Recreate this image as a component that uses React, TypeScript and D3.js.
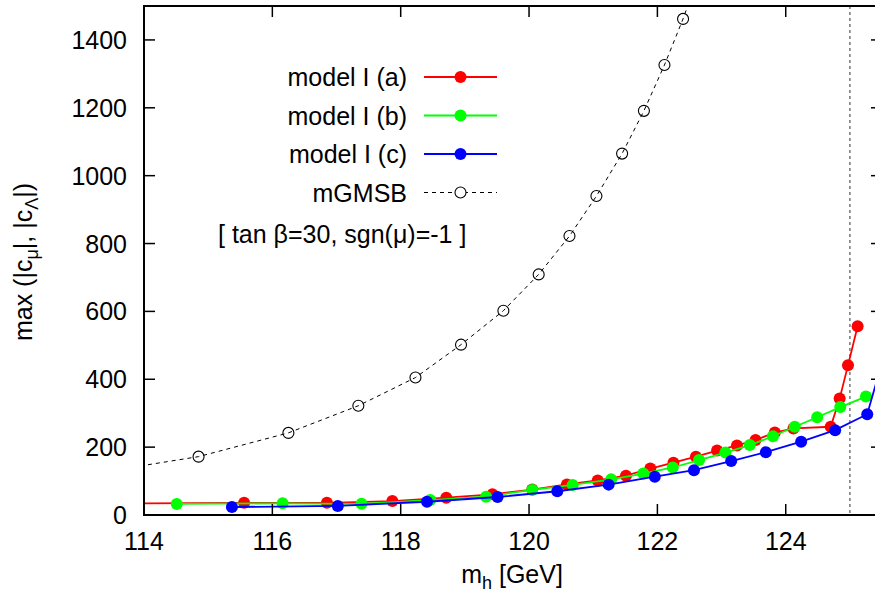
import React from "react";
import * as d3 from "d3";

const xTicks = [114, 116, 118, 120, 122, 124];
const yTicks = [0, 200, 400, 600, 800, 1000, 1200, 1400];

const redX = [113.5, 115.56, 116.85, 117.87, 118.71, 119.43, 120.05, 120.59, 121.07, 121.51, 121.89, 122.25, 122.6, 122.93, 123.24, 123.53, 123.83, 124.12, 124.7, 124.84, 124.97, 125.12];
const redY = [34, 36, 36, 41, 51, 61, 75, 90, 102, 116, 137, 154, 172, 190, 205, 221, 243, 255, 260, 343, 441, 556];

const greenX = [114.51, 116.16, 117.39, 118.46, 119.33, 120.05, 120.68, 121.28, 121.78, 122.24, 122.65, 123.06, 123.44, 123.8, 124.14, 124.49, 124.85, 125.25];
const greenY = [32.5, 34.5, 33, 44, 54, 74, 88.6, 105, 122, 140, 162, 184, 206, 232, 260, 288, 318, 349];

const blueX = [115.37, 117.02, 118.41, 119.51, 120.44, 121.24, 121.96, 122.57, 123.15, 123.69, 124.24, 124.77, 125.27, 125.5];
const blueY = [23.6, 26.6, 39, 53, 70, 89.5, 113, 132, 159, 185, 216, 250, 297, 450];

const mgmsbX = [113.2, 114.85, 116.25, 117.34, 118.23, 118.94, 119.6, 120.15, 120.63, 121.05, 121.45, 121.79, 122.11, 122.4, 122.67];
const mgmsbY = [122, 172, 242, 322, 405, 502, 602, 709, 822, 940, 1065, 1191, 1326, 1462, 1605];

const legendLabels = ["model I (a)", "model I (b)", "model I (c)", "mGMSB"];
const vLineX = 125;

const W = 875;
const H = 592;
const L = 144;
const R = 882;
const T = 6;
const B = 515;
const FONT = "'Liberation Sans', Arial, sans-serif";
const FS = 25;
const SUB = 18;

export default function App() {
  const x = d3.scaleLinear().domain([114, 125.5]).range([L, R]);
  const y = d3.scaleLinear().domain([0, 1500]).range([B, T]);
  const line = d3
    .line<[number, number]>()
    .x((d) => x(d[0]))
    .y((d) => y(d[1]));

  const zip = (xs: number[], ys: number[]) => xs.map((v, i) => [v, ys[i]] as [number, number]);

  const series = [
    { pts: zip(redX, redY), color: "#ff0000" },
    { pts: zip(greenX, greenY), color: "#00ff00" },
    { pts: zip(blueX, blueY), color: "#0000ff" },
  ];
  const mg = zip(mgmsbX, mgmsbY);

  const legendY = [77, 115.5, 154, 192.5];
  const legendColors = ["#ff0000", "#00ff00", "#0000ff"];

  return (
    <svg
      width={W}
      height={H}
      style={{ position: "absolute", left: 0, top: 0, background: "#fff" }}
      fontFamily={FONT}
    >
      <defs>
        <clipPath id="plot">
          <rect x={L} y={T} width={R - L} height={B - T} />
        </clipPath>
      </defs>
      <rect x={0} y={0} width={W} height={H} fill="#fff" />

      {/* vertical dashed line */}
      <line x1={x(vLineX)} x2={x(vLineX)} y1={T} y2={B} stroke="#555" strokeWidth={1.2} strokeDasharray="3,3" />

      <g clipPath="url(#plot)">
        {series.map((s, i) => (
          <g key={i}>
            <path d={line(s.pts) || ""} fill="none" stroke={s.color} strokeWidth={1.8} />
            {s.pts.map((p, j) => (
              <circle key={j} cx={x(p[0])} cy={y(p[1])} r={6} fill={s.color} />
            ))}
          </g>
        ))}
        <path d={line(mg) || ""} fill="none" stroke="#000" strokeWidth={1} strokeDasharray="4,4" />
        {mg.map((p, j) => (
          <circle key={j} cx={x(p[0])} cy={y(p[1])} r={5.5} fill="none" stroke="#000" strokeWidth={1.1} />
        ))}
      </g>

      {/* ticks */}
      {yTicks.map((t) => (
        <g key={"y" + t}>
          <line x1={L} x2={L + 11} y1={y(t)} y2={y(t)} stroke="#000" strokeWidth={1.5} />
          <line x1={R} x2={R - 11} y1={y(t)} y2={y(t)} stroke="#000" strokeWidth={1.5} />
          <text x={127} y={y(t)} dy="0.36em" textAnchor="end" fontSize={FS} fill="#000">
            {t}
          </text>
        </g>
      ))}
      {xTicks.map((t) => (
        <g key={"x" + t}>
          <line x1={x(t)} x2={x(t)} y1={B} y2={B - 11} stroke="#000" strokeWidth={1.5} />
          <line x1={x(t)} x2={x(t)} y1={T} y2={T + 11} stroke="#000" strokeWidth={1.5} />
          <text x={x(t)} y={550} textAnchor="middle" fontSize={FS} fill="#000">
            {t}
          </text>
        </g>
      ))}

      {/* frame */}
      <rect x={L} y={T} width={R - L} height={B - T} fill="none" stroke="#000" strokeWidth={2} />

      {/* axis labels */}
      <text x={512} y={583} textAnchor="middle" fontSize={FS} fill="#000">
        m<tspan fontSize={SUB} dy={6}>h</tspan>
        <tspan dy={-6}> [GeV]</tspan>
      </text>
      <text transform={`translate(32,262) rotate(-90)`} textAnchor="middle" fontSize={FS} fill="#000">
        max (|c<tspan fontSize={SUB} dy={6}>μ</tspan>
        <tspan dy={-6}>|, |c</tspan>
        <tspan fontSize={SUB} dy={6}>Λ</tspan>
        <tspan dy={-6}>|)</tspan>
      </text>

      {/* legend */}
      {legendLabels.map((lab, i) => (
        <g key={lab}>
          <text x={407} y={legendY[i]} dy="0.36em" textAnchor="end" fontSize={FS} fill="#000">
            {lab}
          </text>
          {i < 3 ? (
            <>
              <line x1={424} x2={497} y1={legendY[i]} y2={legendY[i]} stroke={legendColors[i]} strokeWidth={1.8} />
              <circle cx={460.5} cy={legendY[i]} r={6} fill={legendColors[i]} />
            </>
          ) : (
            <>
              <line x1={424} x2={497} y1={legendY[i]} y2={legendY[i]} stroke="#000" strokeWidth={1} strokeDasharray="4,4" />
              <circle cx={460.5} cy={legendY[i]} r={5.5} fill="#fff" stroke="#000" strokeWidth={1.1} />
            </>
          )}
        </g>
      ))}
      <text x={218} y={234} dy="0.36em" fontSize={FS} fill="#000">
        [ tan β=30, sgn(μ)=-1 ]
      </text>
    </svg>
  );
}
